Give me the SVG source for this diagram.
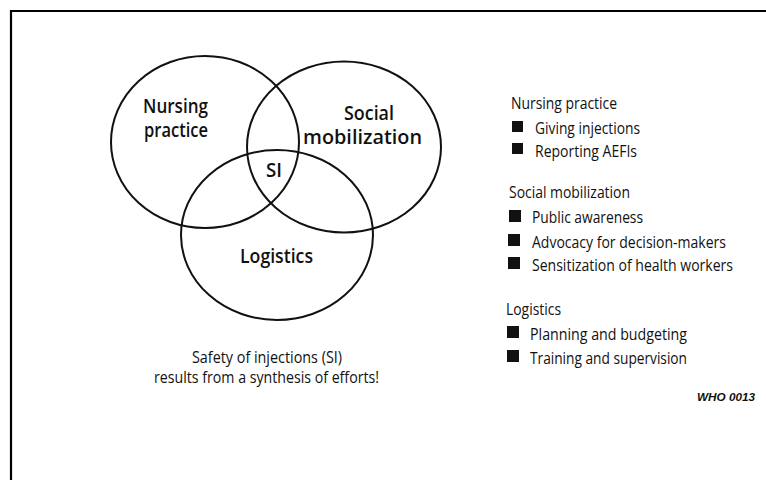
<svg xmlns="http://www.w3.org/2000/svg" width="766" height="480" viewBox="0 0 766 480">
  <style>
    .frame { stroke: #000; stroke-width: 2.2; fill: none; }
    .ring { fill: none; stroke: #111; stroke-width: 2; }
    .lbl { font-family: "Open Sans", "Liberation Sans", sans-serif; font-weight: 600; font-size: 19px; fill: #111; }
    .txt { font-family: "Open Sans", "Liberation Sans", sans-serif; font-size: 16px; fill: #111; }
    .code { font-family: "Liberation Sans", sans-serif; font-weight: bold; font-style: italic; font-size: 10.5px; fill: #111; }
    .sq { fill: #111; }
  </style>

  <rect width="766" height="480" fill="#fff"/>

  <!-- outer frame: top and left edges -->
  <path class="frame" d="M766 11 H11 V480"/>

  <!-- Venn circles -->
  <g id="nursing">
    <ellipse class="ring" cx="205" cy="142" rx="94" ry="86"/>
    <text class="lbl" x="143" y="113" textLength="65" lengthAdjust="spacingAndGlyphs">Nursing</text>
    <text class="lbl" x="144" y="137" textLength="64" lengthAdjust="spacingAndGlyphs">practice</text>
  </g>
  <g id="social">
    <ellipse class="ring" cx="344" cy="147" rx="97" ry="85.5"/>
    <text class="lbl" x="344" y="120" textLength="50" lengthAdjust="spacingAndGlyphs">Social</text>
    <text class="lbl" x="303" y="144" textLength="119" lengthAdjust="spacingAndGlyphs">mobilization</text>
  </g>
  <g id="logistics">
    <ellipse class="ring" cx="277" cy="235" rx="96" ry="85"/>
    <text class="lbl" x="240" y="263" textLength="73" lengthAdjust="spacingAndGlyphs">Logistics</text>
  </g>
  <g id="si">
    <text class="lbl" x="266" y="177" textLength="16" lengthAdjust="spacingAndGlyphs">SI</text>
  </g>

  <!-- caption under the diagram -->
  <g id="caption">
    <text class="txt" x="192" y="363" textLength="150" lengthAdjust="spacingAndGlyphs">Safety of injections (SI)</text>
    <text class="txt" x="154" y="383" textLength="225" lengthAdjust="spacingAndGlyphs">results from a synthesis of efforts!</text>
  </g>

  <!-- key list -->
  <g id="key">
    <text class="txt" x="511" y="109" textLength="106" lengthAdjust="spacingAndGlyphs">Nursing practice</text>
    <rect class="sq" x="512" y="121" width="11" height="11"/>
    <text class="txt" x="535" y="134" textLength="105" lengthAdjust="spacingAndGlyphs">Giving injections</text>
    <rect class="sq" x="512" y="143" width="11" height="11"/>
    <text class="txt" x="535" y="157" textLength="102" lengthAdjust="spacingAndGlyphs">Reporting AEFIs</text>

    <text class="txt" x="509" y="198" textLength="121" lengthAdjust="spacingAndGlyphs">Social mobilization</text>
    <rect class="sq" x="509" y="210" width="12" height="12"/>
    <text class="txt" x="532" y="223" textLength="111" lengthAdjust="spacingAndGlyphs">Public awareness</text>
    <rect class="sq" x="508" y="234" width="12" height="12"/>
    <text class="txt" x="532" y="248" textLength="194" lengthAdjust="spacingAndGlyphs">Advocacy for decision-makers</text>
    <rect class="sq" x="508" y="257" width="12" height="12"/>
    <text class="txt" x="532" y="271" textLength="201" lengthAdjust="spacingAndGlyphs">Sensitization of health workers</text>

    <text class="txt" x="506" y="315" textLength="55" lengthAdjust="spacingAndGlyphs">Logistics</text>
    <rect class="sq" x="507" y="326" width="12" height="12"/>
    <text class="txt" x="530" y="340" textLength="157" lengthAdjust="spacingAndGlyphs">Planning and budgeting</text>
    <rect class="sq" x="507" y="350" width="12" height="12"/>
    <text class="txt" x="530" y="364" textLength="157" lengthAdjust="spacingAndGlyphs">Training and supervision</text>

    <text class="code" x="697" y="401" textLength="58" lengthAdjust="spacingAndGlyphs">WHO 0013</text>
  </g>
</svg>
